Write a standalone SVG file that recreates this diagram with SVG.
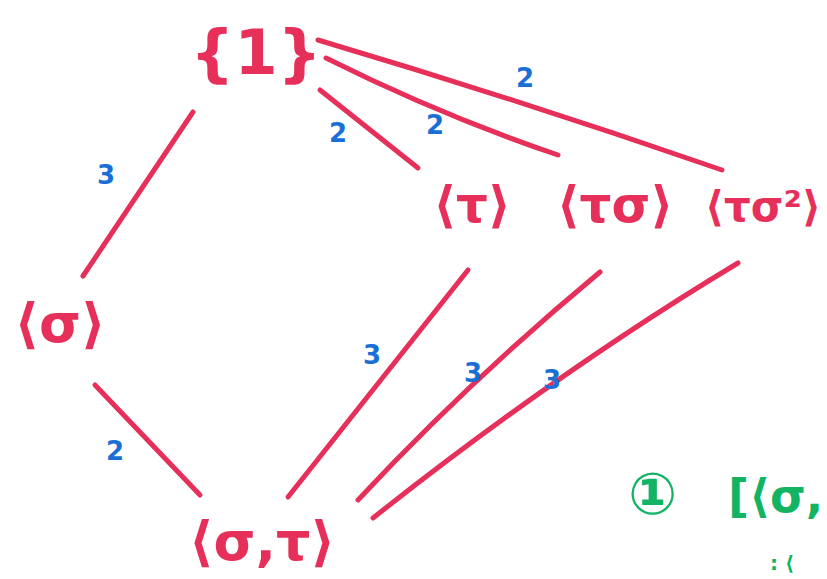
<svg xmlns="http://www.w3.org/2000/svg" width="827" height="579" viewBox="0 0 827 579">
<style>
.n{font-family:"DejaVu Sans",sans-serif;font-weight:bold;fill:#e6305a;text-anchor:middle}
.e{fill:none;stroke:#e6305a;stroke-width:5;stroke-linecap:round}
.l{font-family:"DejaVu Sans",sans-serif;font-weight:bold;fill:#1a6fd6;font-size:26px;text-anchor:middle}
.g{font-family:"DejaVu Sans",sans-serif;font-weight:bold;fill:#12b464}
</style>
<rect width="827" height="579" fill="#fff"/>
<g id="connectors">
<path class="e" d="M193,112 L83,276"/>
<path class="e" d="M320,90 L418,168"/>
<path class="e" d="M326,58 Q440,115 558,155"/>
<path class="e" d="M318,40 Q520,100 722,170"/>
<path class="e" d="M95,385 L200,495"/>
<path class="e" d="M468,270 L288,497"/>
<path class="e" d="M600,272 Q470,380 358,500"/>
<path class="e" d="M738,263 Q560,370 373,518"/>
</g>
<g id="labels">
<text class="l" x="106" y="184">3</text>
<text class="l" x="338" y="142">2</text>
<text class="l" x="435" y="134">2</text>
<text class="l" x="525" y="87">2</text>
<text class="l" x="372" y="364">3</text>
<text class="l" x="473" y="382">3</text>
<text class="l" x="552" y="389">3</text>
<text class="l" x="115" y="460">2</text>
</g>
<g id="n1"><text class="n" x="256" y="74" font-size="62">{1}</text></g>
<g id="ntau"><text class="n" x="472" y="222" font-size="50">⟨τ⟩</text></g>
<g id="ntausigma"><text class="n" x="615" y="222" font-size="50">⟨τσ⟩</text></g>
<g id="ntausigma2"><text class="n" x="763" y="221" font-size="42">⟨τσ²⟩</text></g>
<g id="nsigma"><text class="n" x="60" y="342" font-size="54">⟨σ⟩</text></g>
<g id="nsigmatau"><text class="n" x="262" y="560" font-size="54">⟨σ,τ⟩</text></g>
<g id="note">
<text class="g" x="628" y="514" font-size="58">①</text>
<text class="g" x="728" y="512" font-size="46">[⟨σ,</text>
<text class="g" x="770" y="570" font-size="20">: ⟨</text>
</g>
</svg>
